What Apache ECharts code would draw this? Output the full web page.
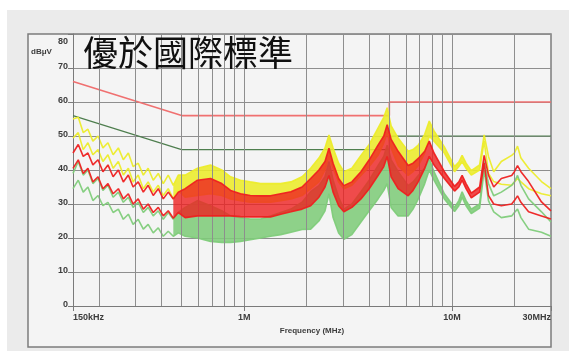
<!DOCTYPE html>
<html>
<head>
<meta charset="utf-8">
<script src="https://cdn.jsdelivr.net/npm/echarts@6/dist/echarts.min.js"></script>
<style>html,body{margin:0;padding:0;background:#fff}#c{width:569px;height:351px}</style>
</head>
<body>
<div id="c"></div>
<script>
// ---- data ----
const freqs = [0.150,0.159,0.168,0.177,0.187,0.198,0.209,0.221,0.234,0.248,0.262,0.277,0.292,0.309,0.327,0.345,0.365,0.386,0.408,0.431,0.456,0.482,
  0.52,0.596,0.689,0.78,0.86,0.96,1.07,1.2,1.34,1.5,1.68,1.9,2.09,2.29,2.45,2.56,2.68,2.85,3.02,3.3,3.65,4.0,4.41,4.7,4.88,5.1,5.51,6.16,6.5,6.89,7.4,7.78,8.2,9.2,10.3,10.8,11.2,11.7,12.4,13.6,14.3,
  15.0,15.9,17.3,19.4,20.0,20.7,21.5,23.4,27.0,30.0];

const yellowHi = [55,55.5,51,52,48.5,50,46.5,48,44.5,46.5,43,45,41,42,38.5,40.5,37,39,36,38.5,35.5,38.5,
  38.5,40.5,41.5,40,38,37,36.5,36,36,36,36.5,38,40.5,43.5,46.5,50.3,46.5,42,39.5,40.5,44.3,47.5,52.3,55.5,58.3,53,49.4,45.5,46,47.3,50.5,54.4,51.5,46.8,41,42.3,44.3,42,39.8,41.5,50.3,
  44,39.5,42.5,44.3,45,47,43.5,40.5,36.6,34.5];
const yellowLo = [49.4,51,46,48,44.5,46,42.5,44.5,40.5,42.5,38.5,40.5,36.5,38.5,34.5,36.5,33.5,35.5,32.5,34.5,31.5,34,
  32,32.5,33,32.5,31.5,31,30.5,30.5,30.5,31,31.5,32.5,34.5,36.5,40,44,40.5,36.5,34.5,35.5,38.4,41,44.3,48,51,46.5,41.3,38.4,39.5,41.3,45,50,48.5,45,39.5,41,42.5,40.5,38.5,40,48.5,
  39,36.6,35.8,35.5,36.5,37.5,36.5,34.5,33,32.4];

const redHi = [45,47.5,44,45,41.5,43,39.5,41.5,38,40,36.5,38.5,35,36.5,33.5,35.5,32.5,34.5,31.5,33.5,31.5,33.5,
  34.5,37,37.5,36,34,33,32.5,32.4,32.4,33,33.6,35,37.5,40,42.5,46.4,42,37.5,35.4,36.5,39.5,43,47.3,50,53.3,49,45.5,41.3,42,43.4,45.5,48.5,45,39.5,35.2,36.5,38.4,36,33.2,35,44.3,
  38.5,35,37.5,38.4,39.5,41.3,39.5,36.6,30.6,28];
const redLo = [40.5,43,39,40.5,36.5,38,34.5,36,33,34.5,31.5,33,30,31.5,28.5,30,27.5,29,26.5,28,25.8,27.5,
  26,26.5,26.5,26.5,26.5,26.3,26.2,26.2,26.2,27,27.7,28.5,29.5,32,35,38.4,33.5,29.5,27.7,29,31.5,34.5,38.4,41,44,38,34.5,32.4,34,36.6,40.5,44,41.5,37.5,33.8,35,37,34.5,31.8,33.5,42,
  32.5,30,29.5,30,31,32.4,30.5,27.7,26.5,25.6];

const greenHi = [39,42.5,38.5,40,36,37.5,34,35.5,32,33.5,30.5,32,29,30.5,27.5,29,26.5,28,25.5,27.5,25.5,27.5,
  29,31,29.5,28,26.5,26,25.6,25.6,26.5,27.5,28.5,30.5,33.6,35.4,38,42.5,37,32,28.5,30,33.6,37,41.3,44,47.3,43,39.5,35.4,36.5,38.4,40.5,43.4,39.5,33,29,31,33.6,31,28.5,30,42.5,
  36,32.4,33.5,35.5,36.5,38.4,35.5,31.5,27.7,24.7];
const greenLo = [34.5,37,33.5,35,31,32.5,29.5,30.5,27.5,28.5,25.5,27,24,25.5,22.6,24,21.5,23,20.5,22,20.5,21.5,
  20.5,20,19,18.7,18.7,19,19.5,20,20.5,21,21.7,22.5,22.6,25,28,33,26,21.5,19.6,21,24.7,28,31.5,34,36,29,26.5,26.5,28.5,31.5,36,40,37,31.5,27.8,29.5,32,29.5,27.2,28.8,40,
  31,27.7,26,26.5,27.5,28.5,26,22.6,21.7,20.5];

const limitQPFreq = [0.15, 0.5, 5, 5, 30];
const limitQP = [66, 56, 56, 60, 60];
const limitAVFreq = [0.15, 0.5, 5, 5, 30];
const limitAV = [56, 46, 46, 50, 50];

const gridFreqs = [0.2,0.3,0.4,0.5,0.6,0.7,0.8,0.9,1,2,3,4,5,6,7,8,9,10,20];
const xTickVals = [0.15, 1, 10, 30];
const xTickLabels = ['150kHz', '1M', '10M', '30MHz'];
const yTicks = [0, 10, 20, 30, 40, 50, 60, 70, 80];

const titleText = '優於國際標準';
const unitText = 'dBμV';
const xName = 'Frequency (MHz)';

const bandStartF = 0.456, bandEndF = 14.3;

// ---- chart ----
const chart = echarts.init(document.getElementById('c'), null, {renderer: 'canvas'});
const pair = (fs, vs) => fs.map((f, i) => [f, vs[i]]);
const lblFont = {fontFamily: 'Liberation Sans', fontWeight: 'bold', fontSize: 9, color: '#3c3c3c'};

function band(color, hi, lo, z, op) {
  const s = freqs.indexOf(bandStartF), e = freqs.indexOf(bandEndF);
  return {
    type: 'custom', silent: true, z: z, clip: true,
    coordinateSystem: 'cartesian2d',
    data: [[freqs[s], lo[s]]],
    encode: {x: 0, y: 1},
    renderItem: function (params, api) {
      const pts = [];
      for (let i = s; i <= e; i++) pts.push(api.coord([freqs[i], hi[i]]));
      for (let i = e; i >= s; i--) pts.push(api.coord([freqs[i], lo[i]]));
      return {type: 'polygon', shape: {points: pts}, style: {fill: color, opacity: op}};
    }
  };
}
function trace(color, vals, z) {
  return {type: 'line', data: pair(freqs, vals), showSymbol: false, silent: true, z: z,
    lineStyle: {color: color, width: 1.6, opacity: 0.95}, animation: false};
}

const yellow = '#ecec2a', red = '#ee2020', green = '#80cc7a';

chart.setOption({
  animation: false,
  backgroundColor: '#ffffff',
  graphic: [
    {type: 'rect', z: -20, shape: {x: 7, y: 10, width: 562, height: 341}, style: {fill: '#ebebeb'}},
    {type: 'rect', z: -19, shape: {x: 28, y: 34, width: 523, height: 313}, style: {fill: '#f4f4f4', stroke: '#7c7c7c', lineWidth: 1.5}},
    {type: 'text', z: 100, left: 31, top: 48, style: {text: unitText, font: 'bold 8px "Liberation Sans"', fill: '#3c3c3c'}},
    {type: 'text', z: 100, left: 83, top: 35, style: {text: titleText, font: '35px "Noto Sans CJK TC"', fill: '#111111'}}
  ],
  grid: {left: 73, right: 18, top: 34, bottom: 45, containLabel: false},
  xAxis: {
    type: 'log', logBase: 10, min: 0.15, max: 30,
    name: xName, nameLocation: 'middle', nameGap: 19,
    nameTextStyle: {fontFamily: 'Liberation Sans', fontWeight: 'bold', fontSize: 8, color: '#3c3c3c'},
    axisLine: {show: true, lineStyle: {color: '#7a7a7a', width: 1}},
    axisTick: {show: true, length: 5, lineStyle: {color: '#7a7a7a'}},
    splitLine: {show: false},
    minorTick: {show: false},
    axisLabel: Object.assign({}, lblFont, {margin: 7, alignMinLabel: 'left', alignMaxLabel: 'right',
      formatter: v => { const i = xTickVals.findIndex(t => Math.abs(t - v) / t < 1e-3); return i >= 0 ? xTickLabels[i] : ''; }})
  },
  yAxis: {
    type: 'value', min: yTicks[0], max: yTicks[yTicks.length - 1], interval: 10,
    axisLine: {show: true, lineStyle: {color: '#7a7a7a', width: 1}},
    axisTick: {show: true, length: 5, lineStyle: {color: '#7a7a7a'}},
    splitLine: {show: true, lineStyle: {color: '#8e8e8e', width: 1}},
    axisLabel: Object.assign({}, lblFont, {margin: 5, padding: [0, 0, 2, 0],
      formatter: v => v === 80 ? '{t|' + v + '}' : String(v),
      rich: {t: Object.assign({}, lblFont, {padding: [18, 0, 0, 0]})}})
  },
  series: [
    {type: 'line', data: [], z: 1, silent: true,
      markLine: {silent: true, symbol: 'none', animation: false, label: {show: false},
        lineStyle: {color: '#8e8e8e', width: 1, type: 'solid'},
        data: gridFreqs.map(f => ({xAxis: f}))}},
    {type: 'line', data: pair(limitQPFreq, limitQP), showSymbol: false, z: 2, silent: true,
      lineStyle: {color: '#f07070', width: 1.6}},
    {type: 'line', data: pair(limitAVFreq, limitAV), showSymbol: false, z: 2, silent: true,
      lineStyle: {color: '#4e7e4e', width: 1.2}},
    band(yellow, yellowHi, yellowLo, 3, 0.88), trace(yellow, yellowHi, 3), trace(yellow, yellowLo, 3),
    band(green, greenHi, greenLo, 4, 0.88), trace(green, greenHi, 4), trace(green, greenLo, 4),
    band(red, redHi, redLo, 5, 0.8), trace(red, redHi, 5), trace(red, redLo, 5)
  ]
});
</script>
</body>
</html>
